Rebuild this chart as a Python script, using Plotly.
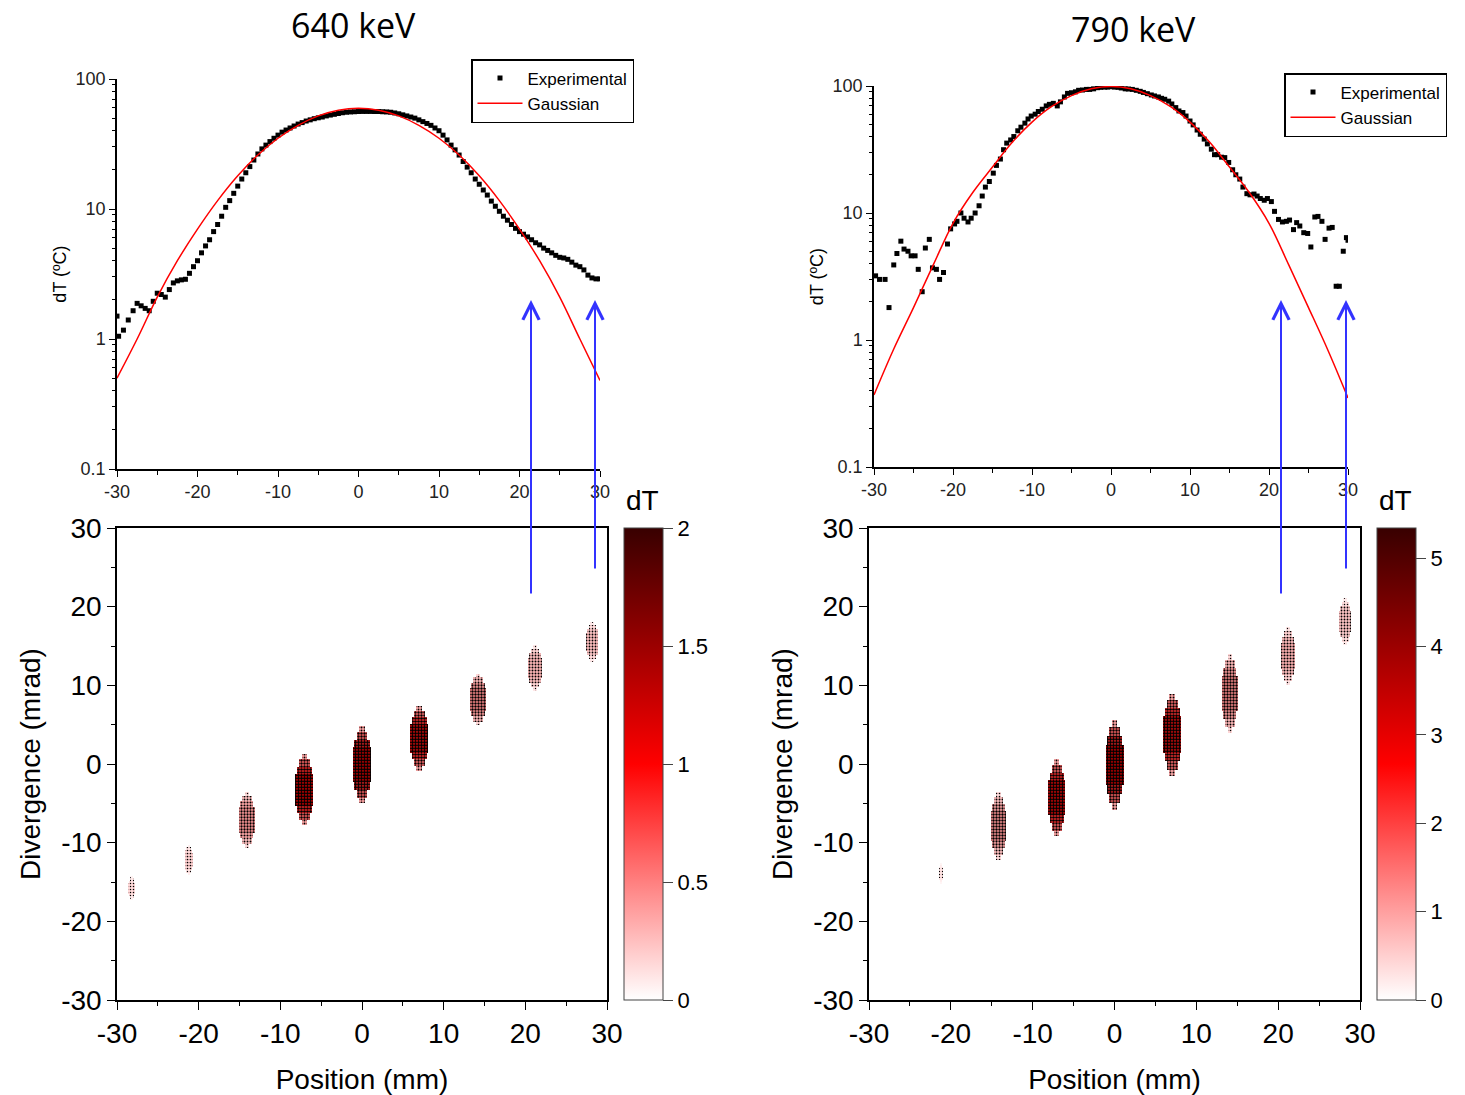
import plotly.graph_objects as go
from plotly.colors import sample_colorscale

W, H = 1465, 1095

# ---------------- data: top panels (dT profiles) ----------------
exp640_x = [-30.0, -29.8, -29.2, -28.6, -28.0, -27.5, -27.0, -26.5, -26.0, -25.5, -25.0, -24.5, -24.0, -23.5,
            -23.0, -22.5, -22.0, -21.5, -21.0, -20.5, -20.0, -19.5, -19.0, -18.5, -18.0, -17.5, -17.0,
            -16.5, -16.0, -15.5, -15.0, -14.5, -14.0, -13.5, -13.0, -12.5, -12.0, -11.5, -11.0, -10.5,
            -10.0, -9.5, -9.0, -8.5, -8.0, -7.5, -7.0, -6.5, -6.0, -5.5, -5.0, -4.5, -4.0, -3.5, -3.0,
            -2.5, -2.0, -1.5, -1.0, -0.5, 0.0, 0.5, 1.0, 1.5, 2.0, 2.5, 3.0, 3.5, 4.0, 4.5, 5.0, 5.5,
            6.0, 6.5, 7.0, 7.5, 8.0, 8.5, 9.0, 9.5, 10.0, 10.5, 11.0, 11.5, 12.0, 12.5, 13.0, 13.5,
            14.0, 14.5, 15.0, 15.5, 16.0, 16.5, 17.0, 17.5, 18.0, 18.5, 19.0, 19.5, 20.0, 20.5, 21.0,
            21.5, 22.0, 22.5, 23.0, 23.5, 24.0, 24.5, 25.0, 25.5, 26.0, 26.5, 27.0, 27.5, 28.0, 28.5,
            29.0, 29.5, 30.0]
exp640_y = [1.5, 1.05, 1.17, 1.4, 1.65, 1.88, 1.8, 1.72, 1.65, 1.95, 2.25, 2.2, 2.1, 2.4,
            2.7, 2.8, 2.85, 2.88, 3.2, 3.6, 4.0, 4.6, 5.2, 5.8, 6.7, 7.6, 8.8,
            10.3, 11.6, 13.2, 15.0, 17.0, 19.0, 21.2, 23.8, 26.5, 29.0, 31.0, 33.0, 35.0,
            37.0, 39.0, 40.5, 42.0, 43.5, 45.0, 46.2, 47.5, 48.5, 49.5, 50.3, 51.0, 52.0, 52.8, 53.5,
            54.3, 55.0, 55.5, 55.8, 56.0, 56.2, 56.3, 56.3, 56.3, 56.2, 56.2, 56.0, 55.8, 55.5, 54.8,
            54.0, 53.0, 52.0, 51.0, 50.0, 48.5, 47.0, 45.5, 44.0, 42.0, 40.0, 37.0, 34.0, 31.0, 28.5,
            26.0, 23.2, 21.0, 19.0, 17.0, 15.5, 14.0, 12.8, 11.5, 10.5, 9.6, 8.8, 8.2, 7.6, 7.1, 6.7,
            6.4, 6.1, 5.8, 5.5, 5.3, 5.0, 4.8, 4.6, 4.4, 4.25, 4.2, 4.1, 3.9, 3.7, 3.6, 3.4, 3.1,
            2.95, 2.9, 2.9]

exp790_x = [-29.8, -29.3, -28.6, -28.1, -27.5, -27.1, -26.6, -26.2, -25.7, -25.3, -24.8, -24.4, -23.9,
            -23.5, -23.0, -22.6, -22.1, -21.7, -21.2, -20.7, -20.3, -19.8, -19.5, -19.0, -18.6, -18.1,
            -17.7, -17.2, -16.7, -16.3, -15.9, -15.4, -14.9, -14.5, -14.0, -13.6, -13.2, -12.7, -12.3,
            -11.8, -11.4, -10.9, -10.5, -10.1, -9.6, -9.2, -8.7, -8.2, -7.8, -7.3, -6.8, -6.4, -5.9,
            -5.5, -5.0, -4.5, -4.1, -3.6, -3.1, -2.7, -2.2, -1.7, -1.3, -0.8, -0.4, 0.0, 0.4, 0.9,
            1.3, 1.8, 2.2, 2.7, 3.2, 3.7, 4.1, 4.6, 5.1, 5.5, 6.0, 6.4, 6.8, 7.3, 7.7, 8.2, 8.6, 9.1,
            9.5, 10.0, 10.4, 10.9, 11.3, 11.8, 12.2, 12.7, 13.1, 13.5, 14.0, 14.4, 14.9, 15.4, 15.8,
            16.3, 16.7, 17.2, 17.6, 18.1, 18.5, 18.9, 19.4, 19.8, 20.3, 20.7, 21.2, 21.7, 22.2, 22.6,
            23.1, 23.5, 23.9, 24.4, 24.9, 25.3, 25.8, 26.2, 26.7, 27.1, 27.6, 28.0, 28.5, 28.9, 29.4,
            29.8, 30.0]
exp790_y = [3.2, 3.0, 3.0, 1.8, 3.9, 4.8, 6.0, 5.2, 5.0, 4.6, 4.6, 3.6, 2.4,
            5.3, 6.2, 3.7, 3.6, 3.0, 3.4, 5.7, 7.5, 8.2, 8.6, 10.0, 9.1, 8.5,
            9.1, 10.0, 11.4, 13.6, 16.0, 17.7, 20.6, 23.7, 26.6, 31.5, 35.5, 37.6, 40.0,
            44.4, 47.4, 51.0, 55.0, 58.0, 60.0, 63.0, 65.6, 69.7, 71.7, 73.0, 69.7, 75.0, 82.0,
            87.5, 88.5, 90.0, 92.5, 93.0, 94.0, 94.0, 95.0, 97.0, 97.6, 98.0, 98.0, 99.0, 98.0, 97.6,
            96.5, 95.0, 94.7, 94.0, 92.5, 90.8, 89.0, 87.0, 85.0, 83.5, 82.0, 80.0, 78.6, 76.0, 72.2,
            67.6, 63.6, 61.8, 58.0, 53.0, 49.4, 45.0, 41.7, 38.2, 35.0, 31.8, 28.8, 28.8, 27.5, 27.3,
            25.0, 21.9, 20.0, 18.5, 16.0, 14.2, 13.9, 14.1, 13.6, 13.0, 12.6, 13.0, 12.3, 10.3, 8.9,
            8.5, 8.6, 8.8, 7.4, 8.4, 7.9, 7.0, 6.9, 5.4, 9.3, 9.4, 8.6, 6.2, 7.6, 7.7, 2.65, 2.65,
            5.0, 6.4, 6.1]

gauss_x = [-30, -27.5, -25, -22.5, -20, -17.5, -15, -12.5, -10, -7.5, -5, -2.5, 0,
           2.5, 5, 7.5, 10, 12.5, 15, 17.5, 20, 22.5, 25, 27.5, 30]
gauss640_y = [0.5, 1.0, 2.1, 4.0, 7.0, 11.6, 18.0, 26.0, 35.0, 44.0, 52.0, 57.5, 59.5,
              57.5, 52.0, 44.0, 35.0, 26.0, 18.0, 11.6, 7.0, 4.0, 2.1, 1.0, 0.48]
gauss790_y = [0.37, 0.85, 1.8, 3.9, 8.3, 14.5, 23.0, 36.0, 52.0, 69.0, 84.0, 95.0, 99.0,
              95.0, 84.0, 69.0, 52.0, 36.0, 23.0, 14.5, 8.3, 3.9, 1.8, 0.82, 0.35]

# ---------------- data: bottom panels (beamlets in phase space) ----------------
bl640_x = [-28.2, -21.2, -14.1, -7.05, 0.0, 7.0, 14.2, 21.2, 28.2]
bl640_y = [-15.8, -12.2, -7.1, -3.25, -0.1, 3.25, 8.2, 12.2, 15.5]
bl640_half = [1.5, 1.9, 3.6, 4.5, 4.9, 4.1, 3.3, 2.9, 2.5]
bl640_w = [0.8, 1.0, 1.9, 2.2, 2.2, 2.2, 1.9, 1.7, 1.5]
bl640_dT = [0.15, 0.18, 0.4, 1.0, 1.0, 0.95, 0.45, 0.28, 0.25]
bl640_dens = [0.2, 0.25, 0.45, 0.72, 0.75, 0.7, 0.5, 0.35, 0.3]

bl790_x = [-21.2, -14.2, -7.05, 0.0, 7.05, 14.1, 21.2, 28.2]
bl790_y = [-13.9, -7.9, -4.3, -0.15, 3.7, 9.0, 13.7, 18.1]
bl790_half = [1.3, 4.3, 4.9, 5.7, 5.2, 5.0, 3.7, 3.0]
bl790_w = [0.6, 1.9, 2.1, 2.2, 2.2, 1.9, 1.7, 1.5]
bl790_dT = [0.3, 1.1, 2.6, 2.7, 2.5, 1.2, 0.8, 0.6]
bl790_dens = [0.15, 0.5, 0.7, 0.75, 0.7, 0.5, 0.38, 0.3]

cbar640_ticks = [0, 0.5, 1, 1.5, 2]
cbar790_ticks = [0, 1, 2, 3, 4, 5]
cmax640, cmax790 = 2.0, 5.34

log_ticks = [0.1, 1, 10, 100]
log_minor = [0.2, 0.3, 0.4, 0.5, 0.6, 0.7, 0.8, 0.9, 2, 3, 4, 5, 6, 7, 8, 9,
             20, 30, 40, 50, 60, 70, 80, 90]
lin_ticks = [-30, -20, -10, 0, 10, 20, 30]
lin_labels = ["-30", "-20", "-10", "0", "10", "20", "30"]
lin_minor = [-25, -15, -5, 5, 15, 25]

# ---------------- styling ----------------
FONT = "Liberation Sans"
RED_SCALE = [[0, "#ffffff"], [0.5, "#ff0000"], [1, "#380000"]]


def px_x(p):
    return p / W


def px_y(p):
    return 1 - p / H


fig = go.Figure()

# Top panels
for (ex, ey, gy, xa, ya, lg) in [
    (exp640_x, exp640_y, gauss640_y, "x", "y", "legend"),
    (exp790_x, exp790_y, gauss790_y, "x2", "y2", "legend2"),
]:
    fig.add_trace(go.Scatter(x=ex, y=ey, mode="markers", name="Experimental",
                             marker=dict(symbol="square", size=5, color="black"),
                             xaxis=xa, yaxis=ya, legend=lg))
    fig.add_trace(go.Scatter(x=gauss_x, y=gy, mode="lines", name="Gaussian",
                             line=dict(color="#ff0000", width=1.5, shape="spline"),
                             xaxis=xa, yaxis=ya, legend=lg))

# Bottom panels: each beamlet drawn as nested dotted (patterned) bars -> elongated blob
layers = [  # (height fraction, width fraction, colour fraction, dot-density fraction)
    (1.0, 0.3, 0.35, 0.45),
    (0.85, 0.6, 0.6, 0.7),
    (0.65, 0.85, 0.85, 0.9),
    (0.45, 1.0, 1.0, 1.0),
]
for (bx, by, bh, bw, bd, bs, cmax, ticks, xa, ya, cbx) in [
    (bl640_x, bl640_y, bl640_half, bl640_w, bl640_dT, bl640_dens, cmax640, cbar640_ticks, "x3", "y3", 624),
    (bl790_x, bl790_y, bl790_half, bl790_w, bl790_dT, bl790_dens, cmax790, cbar790_ticks, "x4", "y4", 1377),
]:
    for (hf, wf, cf, sf) in layers:
        bg = sample_colorscale(RED_SCALE, [cf * d / cmax for d in bd])
        fig.add_trace(go.Bar(
            x=bx, base=[c - hf * h for c, h in zip(by, bh)], y=[2 * hf * h for h in bh],
            width=[wf * w for w in bw],
            marker=dict(color="black", line=dict(width=0),
                        pattern=dict(shape=".", fillmode="replace", fgcolor="black", fgopacity=1,
                                     bgcolor=bg, size=3, solidity=[sf * s for s in bs])),
            showlegend=False, xaxis=xa, yaxis=ya, hoverinfo="skip"))
    # colour bar (dT scale)
    fig.add_trace(go.Scatter(
        x=[None, None], y=[None, None], mode="markers", xaxis=xa, yaxis=ya,
        showlegend=False, hoverinfo="skip",
        marker=dict(color=[0, cmax], colorscale=RED_SCALE, cmin=0, cmax=cmax, showscale=True,
                    colorbar=dict(x=px_x(cbx), xanchor="left", xpad=0, ypad=0,
                                  y=px_y(764), yanchor="middle", len=472, lenmode="pixels",
                                  thickness=39, outlinewidth=1, outlinecolor="#444",
                                  ticks="outside", ticklen=10, tickcolor="#444",
                                  tickvals=ticks,
                                  tickfont=dict(family=FONT, size=22, color="black")))))

top_x_common = dict(range=[-30, 30], tickvals=lin_ticks, ticktext=lin_labels, ticks="outside", ticklen=6,
                    tickcolor="black", showline=True, linecolor="black", linewidth=1.5,
                    showgrid=False, zeroline=False, automargin=False,
                    minor=dict(tickvals=lin_minor, ticks="outside", ticklen=4, tickcolor="black"),
                    tickfont=dict(family=FONT, size=18, color="#222"))
top_y_common = dict(type="log", range=[-1, 2], tickvals=log_ticks, ticktext=["0.1", "1", "10", "100"],
                    ticks="outside", ticklen=6, tickcolor="black", showline=True, linecolor="black",
                    linewidth=1.5, showgrid=False, zeroline=False, automargin=False,
                    minor=dict(tickvals=log_minor, ticks="outside", ticklen=3, tickcolor="black"),
                    tickfont=dict(family=FONT, size=18, color="#222"),
                    title=dict(text="dT (ºC)", font=dict(family=FONT, size=18, color="black"),
                               standoff=4))

bot_x_common = dict(range=[-30, 30], tickvals=lin_ticks, ticktext=lin_labels, ticks="outside", ticklen=8,
                    tickcolor="black", showline=True, linecolor="black", linewidth=1.5,
                    mirror=True, showgrid=False, zeroline=False, automargin=False,
                    minor=dict(tickvals=lin_minor, ticks="outside", ticklen=4, tickcolor="black"),
                    tickfont=dict(family=FONT, size=28, color="black"),
                    title=dict(text="Position (mm)", font=dict(family=FONT, size=28, color="black"),
                               standoff=22))
bot_y_common = dict(range=[-30, 30], tickvals=lin_ticks, ticktext=lin_labels, ticks="outside", ticklen=8,
                    tickcolor="black", showline=True, linecolor="black", linewidth=1.5,
                    mirror=True, showgrid=False, zeroline=False, automargin=False,
                    minor=dict(tickvals=lin_minor, ticks="outside", ticklen=4, tickcolor="black"),
                    tickfont=dict(family=FONT, size=28, color="black"),
                    title=dict(text="Divergence (mrad)", font=dict(family=FONT, size=28, color="black"),
                               standoff=12))

legend_common = dict(xanchor="left", yanchor="top", bordercolor="black", borderwidth=1.5,
                     bgcolor="white", font=dict(family=FONT, size=17, color="black"),
                     tracegroupgap=0, itemwidth=45)

fig.update_layout(
    width=W, height=H, paper_bgcolor="white", plot_bgcolor="white",
    margin=dict(l=0, r=0, t=0, b=0, autoexpand=False),
    barmode="overlay", bargap=0,
    xaxis=dict(domain=[px_x(117), px_x(600)], anchor="y", **top_x_common),
    yaxis=dict(domain=[px_y(469), px_y(79)], anchor="x", **top_y_common),
    xaxis2=dict(domain=[px_x(874), px_x(1348)], anchor="y2", **top_x_common),
    yaxis2=dict(domain=[px_y(467), px_y(86)], anchor="x2", **top_y_common),
    xaxis3=dict(domain=[px_x(117), px_x(607)], anchor="y3", **bot_x_common),
    yaxis3=dict(domain=[px_y(1000), px_y(528)], anchor="x3", **bot_y_common),
    xaxis4=dict(domain=[px_x(869), px_x(1360)], anchor="y4", **bot_x_common),
    yaxis4=dict(domain=[px_y(1000), px_y(528)], anchor="x4", **bot_y_common),
    legend=dict(x=px_x(471), y=px_y(59), **legend_common),
    legend2=dict(x=px_x(1284), y=px_y(73), **legend_common),
)

# Panel titles
for text, cx, cy in [("640 keV", 353, 25), ("790 keV", 1133, 29)]:
    fig.add_annotation(text=text, x=px_x(cx), y=px_y(cy), xref="paper", yref="paper",
                       showarrow=False, xanchor="center", yanchor="middle",
                       font=dict(family="Open Sans", size=34, color="black"))

# Colour-bar titles
for cx in [642, 1395]:
    fig.add_annotation(text="dT", x=px_x(cx), y=px_y(500), xref="paper", yref="paper",
                       showarrow=False, xanchor="center", yanchor="middle",
                       font=dict(family=FONT, size=28, color="black"))

# Blue arrows linking the outer beamlets to the profile tails
arrow_px = [(531, 595), (595, 570), (1281, 595), (1346, 570)]
for ax_px, tail_px in arrow_px:
    fig.add_annotation(x=px_x(ax_px), y=px_y(300), xref="paper", yref="paper",
                       ax=0, ay=tail_px - 300, axref="pixel", ayref="pixel",
                       showarrow=True, arrowhead=5, arrowsize=1.6, arrowwidth=2,
                       arrowcolor="#3333ff", text="")

fig.write_html("out.html", config={"displayModeBar": False},
               post_script="document.body.style.margin='0';")
